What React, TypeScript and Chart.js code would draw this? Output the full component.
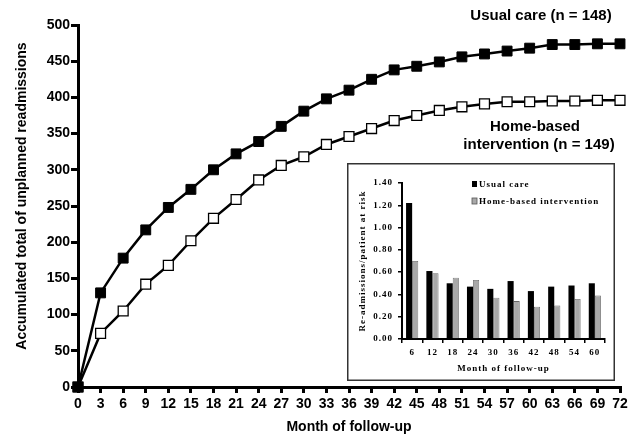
import React, { useEffect, useRef } from 'react';
import { Chart, registerables } from 'chart.js';

Chart.register(...registerables);

// ---- Main chart data ----
const months = [0, 3, 6, 9, 12, 15, 18, 21, 24, 27, 30, 33, 36, 39, 42, 45, 48, 51, 54, 57, 60, 63, 66, 69, 72];
const usualCare = [0, 130, 178, 217, 248, 273, 300, 322, 339, 360, 381, 398, 410, 425, 438, 443, 449, 456, 460, 464, 468, 473, 473, 474, 474];
const homeBased = [0, 74, 105, 142, 168, 202, 233, 259, 286, 306, 318, 335, 346, 357, 368, 375, 382, 387, 391, 394, 394, 395, 395, 396, 396];

// ---- Inset chart data ----
const insetMonths = ['6', '12', '18', '24', '30', '36', '42', '48', '54', '60'];
const insetUsual = [1.22, 0.61, 0.5, 0.47, 0.45, 0.52, 0.43, 0.47, 0.48, 0.5];
const insetHome = [0.7, 0.59, 0.55, 0.53, 0.37, 0.34, 0.29, 0.3, 0.36, 0.39];

const mainTitleX = 'Month of follow-up';
const mainTitleY = 'Accumulated total of unplanned readmissions';
const labelUsual = 'Usual care (n = 148)';
const labelHome1 = 'Home-based';
const labelHome2 = 'intervention (n = 149)';
const insetLegend = ['Usual care', 'Home-based intervention'];
const insetTitleX = 'Month of follow-up';
const insetTitleY = 'Re-admissions/patient at risk';

const SANS = '"Liberation Sans", Arial, Helvetica, sans-serif';
const SERIF = '"Liberation Serif", "Times New Roman", serif';

export default function App() {
  const mainRef = useRef<HTMLCanvasElement | null>(null);
  const insetRef = useRef<HTMLCanvasElement | null>(null);

  useEffect(() => {
    document.body.style.margin = '0';
    const mainCanvas = mainRef.current!;
    const insetCanvas = insetRef.current!;

    const mainAnnot = {
      id: 'mainAnnot',
      afterDraw(chart: any) {
        const ctx = chart.ctx;
        ctx.save();
        ctx.fillStyle = '#000';
        ctx.font = `bold 15px ${SANS}`;
        ctx.textAlign = 'center';
        ctx.textBaseline = 'middle';
        ctx.fillText(labelUsual, 541, 16);
        ctx.fillText(labelHome1, 535, 127);
        ctx.fillText(labelHome2, 539, 145);
        ctx.font = `bold 14px ${SANS}`;
        ctx.translate(22, 196);
        ctx.rotate(-Math.PI / 2);
        ctx.fillText(mainTitleY, 0, 0);
        ctx.restore();
      },
    };

    const axisFont = { family: SANS, size: 14, weight: 'bold' as const };

    const main = new Chart(mainCanvas, {
      type: 'line',
      data: {
        datasets: [
          {
            label: labelUsual,
            data: months.map((m, i) => ({ x: m, y: usualCare[i] })),
            borderColor: '#000',
            backgroundColor: '#000',
            borderWidth: 2.5,
            pointStyle: 'rect',
            pointRadius: 7,
            pointBackgroundColor: '#000',
            pointBorderColor: '#000',
            pointBorderWidth: 1,
            tension: 0,
            clip: false as any,
          },
          {
            label: labelHome1 + ' ' + labelHome2,
            data: months.map((m, i) => ({ x: m, y: homeBased[i] })),
            borderColor: '#000',
            backgroundColor: '#fff',
            borderWidth: 2.5,
            pointStyle: 'rect',
            pointRadius: 7,
            pointBackgroundColor: '#fff',
            pointBorderColor: '#000',
            pointBorderWidth: 1.3,
            tension: 0,
            clip: false as any,
          },
        ],
      },
      options: {
        animation: false,
        responsive: false,
        layout: { padding: { left: 13, top: 25, right: 19, bottom: 4 } },
        plugins: { legend: { display: false }, tooltip: { enabled: false } },
        scales: {
          x: {
            type: 'linear',
            min: 0,
            max: 72,
            ticks: { stepSize: 3, autoSkip: false, maxRotation: 0, font: axisFont, color: '#000', padding: 3 },
            grid: { drawOnChartArea: false, drawTicks: true, tickLength: 6, lineWidth: 3, color: '#000' },
            border: { width: 3, color: '#000' },
            title: { display: true, text: mainTitleX, font: axisFont, color: '#000', padding: 0 },
            afterFit: (s: any) => { s.height = 49; },
          },
          y: {
            min: 0,
            max: 500,
            ticks: { stepSize: 50, font: axisFont, color: '#000', padding: 1 },
            grid: { drawOnChartArea: false, drawTicks: true, tickLength: 7, lineWidth: 3, color: '#000' },
            border: { width: 3, color: '#000' },
            afterFit: (s: any) => { s.width = 65; },
          },
        },
      },
      plugins: [mainAnnot],
    });

    const insetDeco = {
      id: 'insetDeco',
      beforeDraw(chart: any) {
        const ctx = chart.ctx;
        ctx.save();
        ctx.fillStyle = '#fff';
        ctx.fillRect(0, 0, chart.width, chart.height);
        ctx.strokeStyle = '#333';
        ctx.lineWidth = 1.5;
        ctx.strokeRect(0.75, 0.75, chart.width - 1.5, chart.height - 1.5);
        ctx.restore();
        ctx.letterSpacing = '1px';
      },
      afterDraw(chart: any) {
        const ctx = chart.ctx;
        ctx.save();
        ctx.letterSpacing = '1px';
        ctx.font = `bold 9px ${SERIF}`;
        ctx.textBaseline = 'middle';
        ctx.textAlign = 'left';
        ctx.fillStyle = '#000';
        ctx.fillRect(125, 18, 5, 6);
        ctx.fillText(insetLegend[0], 132, 21.5);
        ctx.fillStyle = '#a8a8a8';
        ctx.fillRect(125, 35, 5, 6);
        ctx.strokeStyle = '#555';
        ctx.lineWidth = 0.8;
        ctx.strokeRect(125, 35, 5, 6);
        ctx.fillStyle = '#000';
        ctx.fillText(insetLegend[1], 132, 38.5);
        ctx.restore();
        ctx.letterSpacing = '0px';
      },
    };

    const insetFont = { family: SERIF, size: 9, weight: 'bold' as const };

    const inset = new Chart(insetCanvas, {
      type: 'bar',
      data: {
        labels: insetMonths,
        datasets: [
          {
            label: insetLegend[0],
            data: insetUsual,
            backgroundColor: '#000',
            borderColor: '#000',
            borderWidth: 0,
            categoryPercentage: 0.6,
            barPercentage: 1,
          },
          {
            label: insetLegend[1],
            data: insetHome,
            backgroundColor: '#a8a8a8',
            borderColor: '#666',
            borderWidth: 0.8,
            categoryPercentage: 0.6,
            barPercentage: 1,
          },
        ],
      },
      options: {
        animation: false,
        responsive: false,
        layout: { padding: { left: 10, top: 20, right: 10, bottom: 6.6 } },
        plugins: { legend: { display: false }, tooltip: { enabled: false } },
        scales: {
          x: {
            ticks: { font: insetFont, color: '#000', padding: 4, maxRotation: 0, autoSkip: false },
            grid: { drawOnChartArea: false, tickLength: 4, lineWidth: 1.5, color: '#000', offset: true },
            border: { width: 2, color: '#000' },
            title: { display: true, text: insetTitleX, font: insetFont, color: '#000', padding: 0 },
            afterFit: (s: any) => { s.height = 35.4; },
          },
          y: {
            min: 0,
            max: 1.4,
            ticks: {
              stepSize: 0.2,
              font: insetFont,
              color: '#000',
              padding: 5,
              callback: (v: any) => Number(v).toFixed(2),
            },
            grid: { drawOnChartArea: false, tickLength: 4, lineWidth: 1.5, color: '#000' },
            border: { width: 2, color: '#000' },
            title: { display: true, text: insetTitleY, font: insetFont, color: '#000', padding: 0 },
            afterFit: (s: any) => { s.width = 45; },
          },
        },
      },
      plugins: [insetDeco],
    });

    return () => {
      main.destroy();
      inset.destroy();
    };
  }, []);

  return (
    <div style={{ position: 'relative', width: 639, height: 440, background: '#fff' }}>
      <canvas ref={mainRef} width={639} height={440} style={{ position: 'absolute', left: 0, top: 0 }} />
      <canvas ref={insetRef} width={268} height={218} style={{ position: 'absolute', left: 347, top: 163 }} />
    </div>
  );
}
